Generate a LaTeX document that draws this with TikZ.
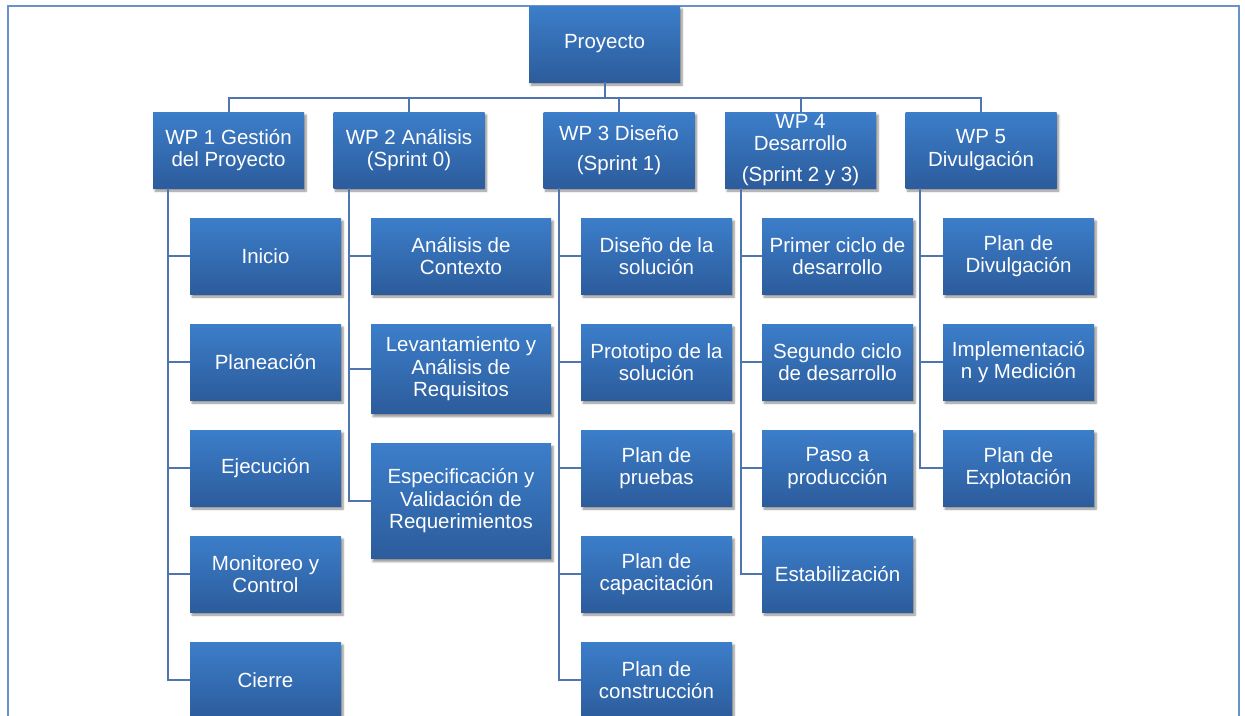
\documentclass[tikz,border=0pt]{standalone}
\usepackage{fontspec}
\setmainfont{Liberation Sans}
\usepackage{xcolor}
\usepackage{tikz}
\usetikzlibrary{shadows.blur}
\definecolor{boxtop}{RGB}{60,126,202}
\definecolor{boxbot}{RGB}{44,92,156}
\definecolor{linkblue}{RGB}{78,117,176}
\definecolor{frameblue}{RGB}{104,146,206}

\begin{document}
\begin{tikzpicture}[x=1pt, y=-1pt,
    wpbox/.style={rectangle, top color=boxtop, bottom color=boxbot, text=white,
        font=\fontsize{20.5}{22.5}\selectfont, align=center, inner sep=2pt,
        minimum width=151pt, minimum height=76pt,
        blur shadow={shadow xshift=2pt, shadow yshift=-3pt, shadow blur steps=6, shadow opacity=45}},
    link/.style={draw=linkblue, line width=2pt}]
    \useasboundingbox (0,0) rectangle (1245,715);
    \draw[frameblue, line width=2.5pt] (8,6) rectangle (1239,740);

    \node[wpbox] (proy) at (604.5,44) {Proyecto};
    \foreach \x/\t[count=\i] in {228.5/{WP 1 Gestión\\del Proyecto}, 409/{WP 2 Análisis\\(Sprint 0)},
            619/{WP 3 Diseño\\[7pt](Sprint 1)}, 800.5/{WP 4\\Desarrollo\\[8pt](Sprint 2 y 3)},
            981/{WP 5\\Divulgación}} {
        \node[wpbox] (wp\i) at (\x,150) {\t};
        \draw[link] (proy.south) -- ++(0,16) -| (wp\i.north);
    }

    \foreach \t[count=\i] in {Inicio, Planeación, Ejecución, {Monitoreo y\\Control}, Cierre} {
        \node[wpbox] (gest\i) at (265.5,150+\i*106) {\t};
        \draw[link] ([xshift=15pt]wp1.south west) |- (gest\i.west);
    }

    \node[wpbox, minimum width=180pt] (anal1) at (461,256) {Análisis de\\Contexto};
    \node[wpbox, minimum width=180pt, minimum height=89pt] (anal2) at (461,369) {Levantamiento y\\Análisis de\\Requisitos};
    \node[wpbox, minimum width=180pt, minimum height=115pt] (anal3) at (461,501) {Especificación y\\Validación de\\Requerimientos};
    \foreach \i in {1,2,3} {
        \draw[link] ([xshift=16pt]wp2.south west) |- (anal\i.west);
    }

    \foreach \t[count=\i] in {{Diseño de la\\solución}, {Prototipo de la\\solución}, {Plan de\\pruebas},
            {Plan de\\capacitación}, {Plan de\\construcción}} {
        \node[wpbox] (dise\i) at (656.5,150+\i*106) {\t};
        \draw[link] ([xshift=16pt]wp3.south west) |- (dise\i.west);
    }

    \foreach \t[count=\i] in {{Primer ciclo de\\desarrollo}, {Segundo ciclo\\de desarrollo}, {Paso a\\producción},
            Estabilización} {
        \node[wpbox] (desa\i) at (837.5,150+\i*106) {\t};
        \draw[link] ([xshift=16pt]wp4.south west) |- (desa\i.west);
    }

    \foreach \t[count=\i] in {{Plan de\\Divulgación}, {Implementació\\n y Medición}, {Plan de\\Explotación}} {
        \node[wpbox] (divu\i) at (1018.5,150+\i*106) {\t};
        \draw[link] ([xshift=15pt]wp5.south west) |- (divu\i.west);
    }
\end{tikzpicture}
\end{document}
